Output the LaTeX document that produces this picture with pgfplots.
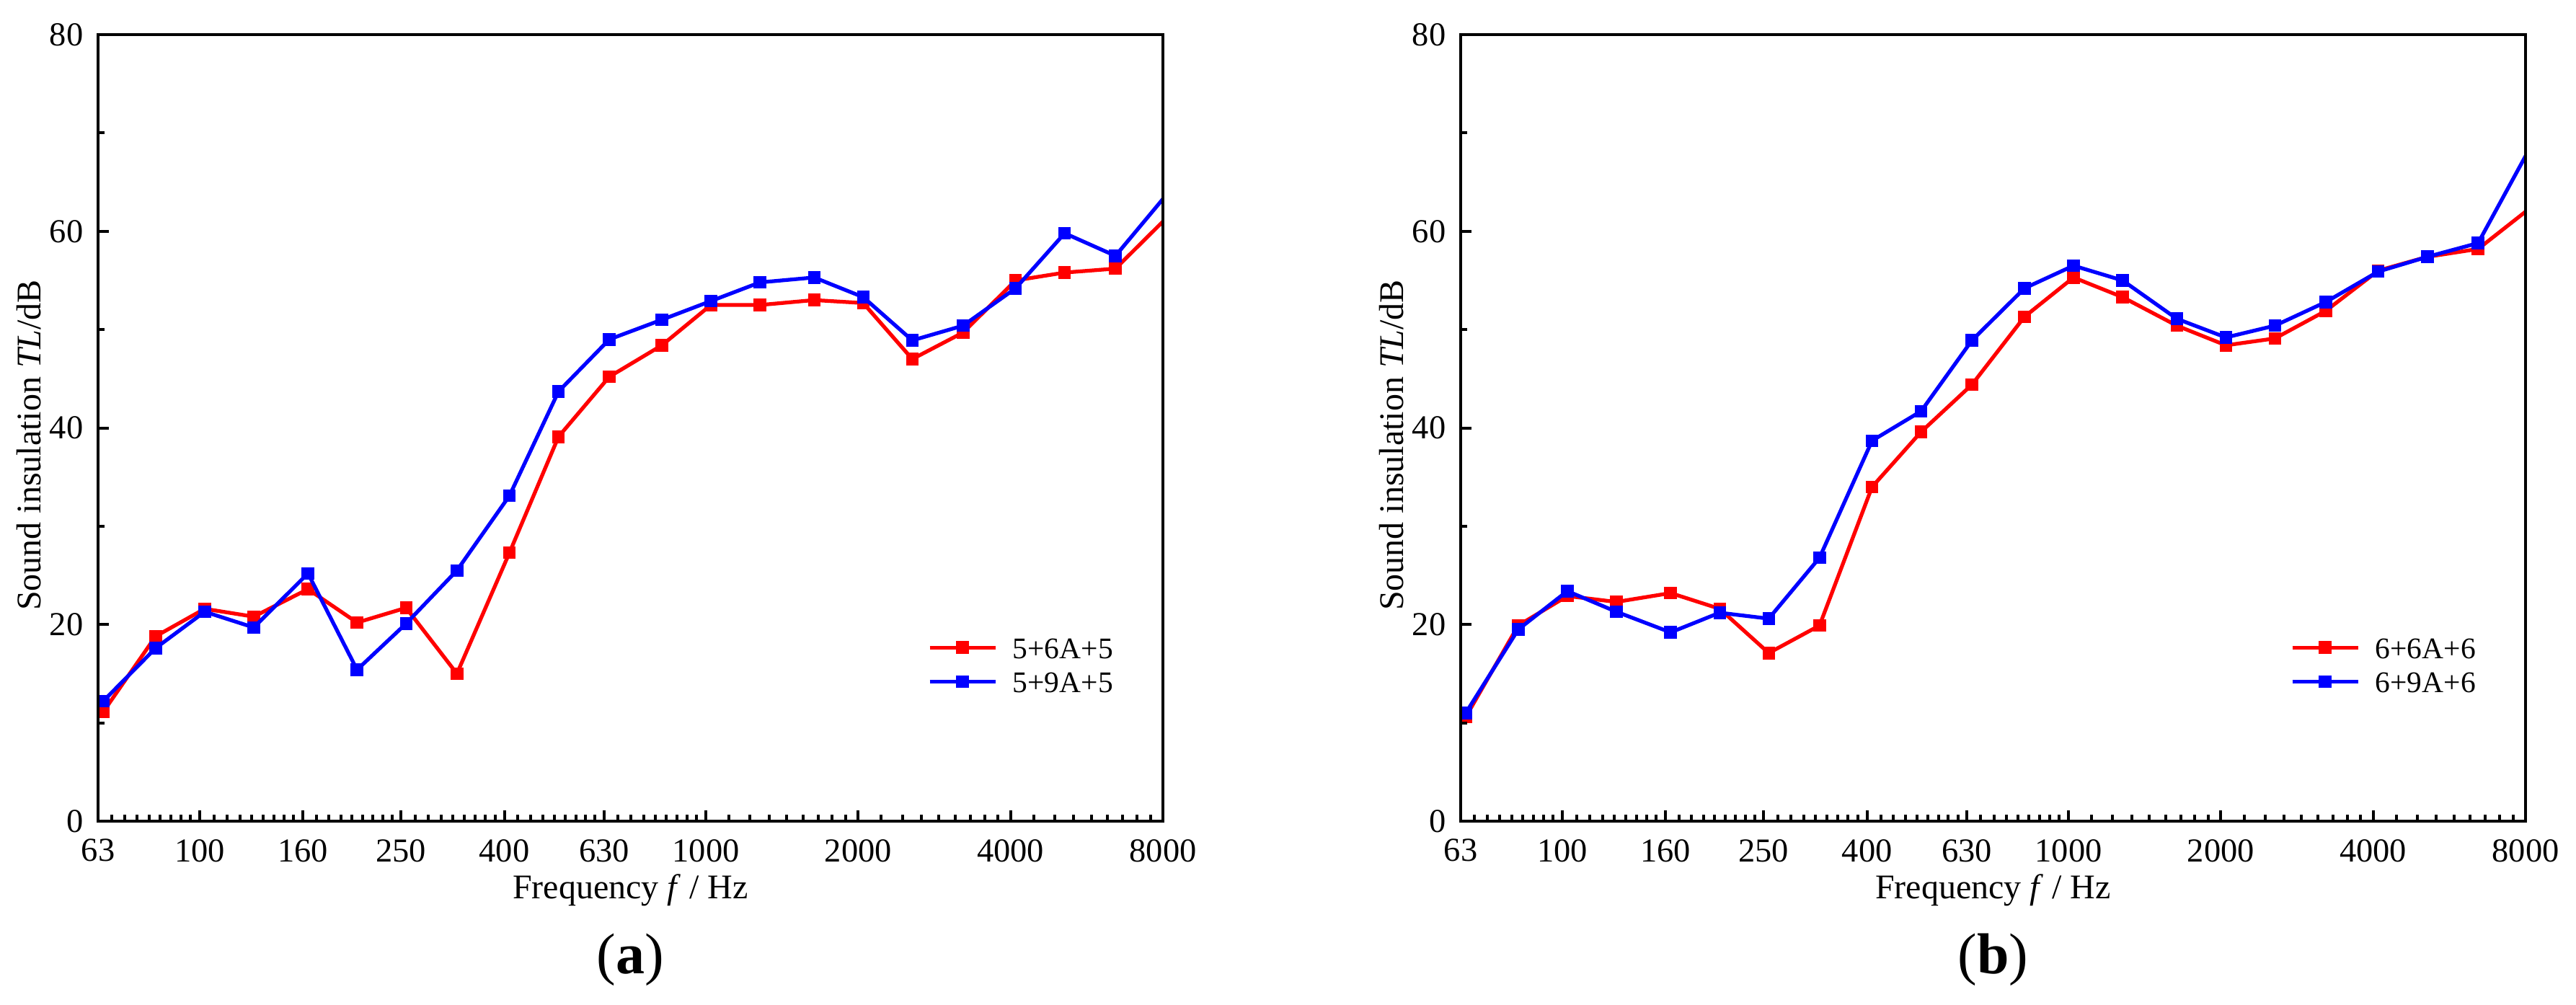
\documentclass[border=0pt]{standalone}
\usepackage{fontspec}
\setmainfont{Liberation Serif}
\usepackage{pgfplots}
\usepackage{pgfplotstable}
\pgfplotsset{compat=1.18}

\pgfplotstableread{
f     a1    a2    b1    b2
63    11.1  12.2  10.6  11.0
80    18.8  17.6  19.9  19.5
100   21.6  21.3  22.9  23.4
125   20.8  19.7  22.3  21.3
160   23.6  25.2  23.2  19.2
200   20.2  15.4  21.6  21.2
250   21.7  20.1  17.1  20.6
315   15.0  25.5  19.9  26.8
400   27.3  33.1  34.0  38.7
500   39.1  43.7  39.6  41.7
630   45.2  49.0  44.4  48.9
800   48.4  51.0  51.3  54.2
1000  52.5  52.9  55.3  56.5
1250  52.5  54.8  53.3  55.0
1600  53.0  55.3  50.4  51.1
2000  52.7  53.3  48.4  49.2
2500  47.0  48.9  49.1  50.4
3150  49.7  50.4  51.9  52.8
4000  55.0  54.2  56.0  55.9
5000  55.8  59.8  57.4  57.4
6300  56.2  57.5  58.2  58.8
8000  61.5  63.9  62.4  68.6
}\datatable

\definecolor{pred}{RGB}{255,0,0}
\definecolor{pblue}{RGB}{0,0,255}

\pgfplotsset{
  every axis/.append style={
    scale only axis, width=295.4pt, height=218.2pt,
    ymin=0, ymax=80,
    ytick={0,20,40,60,80}, minor ytick={10,30,50,70},
    tick align=inside, xtick pos=bottom, ytick pos=left,
    major tick length=3pt, minor tick length=1.8pt,
    axis line style={line width=0.8pt},
    /pgf/number format/assume math mode=true,
    tick label style={font=\fontsize{9.3}{11}\selectfont},
    xticklabel style={yshift=-1.5pt},
    yticklabel style={xshift=-0.6pt},
    xlabel style={at={(axis description cs:0.5,0)}, anchor=base, yshift=-21.4pt,
      font=\fontsize{9.6}{11}\selectfont},
    ylabel style={at={(axis description cs:-0.065,0.478)}, anchor=center,
      font=\fontsize{9.6}{11}\selectfont},
    clip marker paths=true, axis on top,
    legend cell align=left,
    legend style={draw=none, fill=none, at={(0.7786,0.199)}, anchor=west,
      inner sep=0pt, column sep=4.3pt, row sep=3.4pt,
      nodes={inner sep=0pt, text height=6.1pt, text depth=0pt,
        font=\fontsize{8.3}{10}\selectfont}},
  },
  every tick/.style={black, line width=0.8pt},
}

\begin{document}
\begin{tikzpicture}
\path[use as bounding box] (0,0) rectangle (714.6pt,278.6pt);

\begin{axis}[name=A, anchor=south west, at={(27.2pt,50.8pt)},
  xmode=log, xmin=63, xmax=8000,
  xtick={63,100,160,250,400,630,1000,2000,4000,8000},
  xticklabels={63,100,160,250,400,630,1000,2000,4000,8000},
  minor xtick={67.11,71.22,75.33,79.44,83.56,87.67,91.78,95.89,
      106.67,113.33,120,126.67,133.33,140,146.67,153.33,
      170,180,190,200,210,220,230,240,
      266.67,283.33,300,316.67,333.33,350,366.67,383.33,
      425.56,451.11,476.67,502.22,527.78,553.33,578.89,604.44,
      671.11,712.22,753.33,794.44,835.56,876.67,917.78,958.89,
      1111.1,1222.2,1333.3,1444.4,1555.6,1666.7,1777.8,1888.9,
      2222.2,2444.4,2666.7,2888.9,3111.1,3333.3,3555.6,3777.8,
      4444.4,4888.9,5333.3,5777.8,6222.2,6666.7,7111.1,7555.6},
  xlabel={Frequency \textit{f} / Hz},
  ylabel={Sound insulation \textit{TL}/dB},
  legend image code/.code={\draw[mark repeat=2,mark phase=2,#1]
      plot coordinates {(0pt,0pt) (9.1pt,0pt) (18.2pt,0pt)};}]
\addplot[color=pred, line width=1.05pt, mark=square*, mark size=1.6pt, xshift=1.4pt,
    mark options={solid, fill=pred, line width=0.3pt}] table[x=f, y=a1] {\datatable};
\addlegendentry{5+6A+5}
\addplot[color=pblue, line width=1.05pt, mark=square*, mark size=1.6pt, xshift=1.4pt,
    mark options={solid, fill=pblue, line width=0.3pt}] table[x=f, y=a2] {\datatable};
\addlegendentry{5+9A+5}
\end{axis}
\node[anchor=base, font=\fontsize{16}{18}\selectfont] at ([yshift=-42.2pt]A.south) {(\textbf{a})};

\begin{axis}[name=B, anchor=south west, at={(405.2pt,50.8pt)},
  xmode=log, xmin=63, xmax=8000,
  xtick={63,100,160,250,400,630,1000,2000,4000,8000},
  xticklabels={63,100,160,250,400,630,1000,2000,4000,8000},
  minor xtick={67.11,71.22,75.33,79.44,83.56,87.67,91.78,95.89,
      106.67,113.33,120,126.67,133.33,140,146.67,153.33,
      170,180,190,200,210,220,230,240,
      266.67,283.33,300,316.67,333.33,350,366.67,383.33,
      425.56,451.11,476.67,502.22,527.78,553.33,578.89,604.44,
      671.11,712.22,753.33,794.44,835.56,876.67,917.78,958.89,
      1111.1,1222.2,1333.3,1444.4,1555.6,1666.7,1777.8,1888.9,
      2222.2,2444.4,2666.7,2888.9,3111.1,3333.3,3555.6,3777.8,
      4444.4,4888.9,5333.3,5777.8,6222.2,6666.7,7111.1,7555.6},
  xlabel={Frequency \textit{f} / Hz},
  ylabel={Sound insulation \textit{TL}/dB},
  legend image code/.code={\draw[mark repeat=2,mark phase=2,#1]
      plot coordinates {(0pt,0pt) (9.1pt,0pt) (18.2pt,0pt)};}]
\addplot[color=pred, line width=1.05pt, mark=square*, mark size=1.6pt, xshift=1.4pt,
    mark options={solid, fill=pred, line width=0.3pt}] table[x=f, y=b1] {\datatable};
\addlegendentry{6+6A+6}
\addplot[color=pblue, line width=1.05pt, mark=square*, mark size=1.6pt, xshift=1.4pt,
    mark options={solid, fill=pblue, line width=0.3pt}] table[x=f, y=b2] {\datatable};
\addlegendentry{6+9A+6}
\end{axis}
\node[anchor=base, font=\fontsize{16}{18}\selectfont] at ([yshift=-42.2pt]B.south) {(\textbf{b})};
\end{tikzpicture}
\end{document}
